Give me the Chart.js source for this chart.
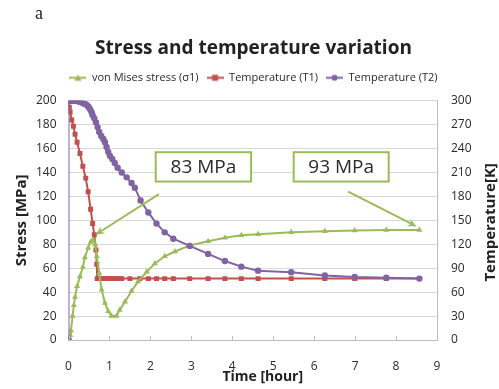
<!DOCTYPE html>
<html>
<head>
<meta charset="utf-8">
<script src="https://cdn.jsdelivr.net/npm/chart.js@4.4.1/dist/chart.umd.min.js"></script>
<style>
  body { margin: 0; background: #fff; }
  #wrap { position: relative; width: 499px; height: 389px; }
  #tag { position: absolute; left: 35px; top: 3px; font: 18px "Liberation Serif", "DejaVu Serif", serif; color: #222; }
</style>
</head>
<body>
<div id="wrap">
  <canvas id="chart" width="499" height="389"></canvas>
  <div id="tag">a</div>
</div>
<script>
// von Mises stress (MPa) vs time (hour)
const stressTime = [0, 0.02, 0.04, 0.06, 0.1, 0.13, 0.16, 0.21, 0.28, 0.35, 0.4, 0.48, 0.54, 0.6, 0.65, 0.69, 0.75, 0.81, 0.89, 0.97, 1.05, 1.17, 1.25, 1.38, 1.54, 1.7, 1.91, 2.11, 2.35, 2.6, 2.96, 3.41, 3.82, 4.22, 4.63, 5.44, 6.26, 6.99, 7.76, 8.57];
const stress = [0, 2, 4, 8, 20, 29, 36, 45, 53, 61, 69, 77, 82, 84, 80, 70, 56, 42, 31, 24, 20, 20, 25, 32, 41, 49, 57, 64, 70, 74, 79, 82.5, 85.5, 87.5, 88.5, 90, 91, 91.5, 92, 92];

// temperature T1 (K)
const t1Time = [0, 0.02, 0.04, 0.08, 0.12, 0.16, 0.21, 0.28, 0.35, 0.42, 0.48, 0.54, 0.59, 0.63, 0.67, 0.69, 0.7, 0.73, 0.76, 0.8, 0.84, 0.88, 0.92, 0.96, 1.0, 1.05, 1.1, 1.15, 1.2, 1.25, 1.3, 1.5, 1.74, 1.95, 2.15, 2.35, 2.56, 2.96, 3.41, 3.82, 4.22, 4.63, 5.44, 6.26, 6.99, 7.76, 8.57];
const tempT1 = [300, 292, 286, 276, 268, 258, 248, 234, 218, 203, 186, 164, 146, 132, 113, 95, 77, 77, 77, 77, 77, 77, 77, 77, 77, 77, 77, 77, 77, 77, 77, 77, 77, 77, 77, 77, 77, 77, 77, 77, 77, 77, 77, 77, 77, 77, 77];

// temperature T2 (K)
const t2Time = [0, 0, 0.04, 0.08, 0.12, 0.16, 0.2, 0.24, 0.28, 0.32, 0.36, 0.4, 0.44, 0.48, 0.51, 0.54, 0.57, 0.59, 0.63, 0.67, 0.71, 0.75, 0.8, 0.85, 0.89, 0.93, 0.97, 1.01, 1.07, 1.13, 1.2, 1.3, 1.42, 1.54, 1.62, 1.76, 1.95, 2.15, 2.35, 2.56, 2.96, 3.41, 3.82, 4.22, 4.63, 5.44, 6.26, 6.99, 7.76, 8.57];
const tempT2 = [0, 300, 300, 300, 300, 300, 300, 299, 299, 298, 297, 296, 295, 293, 291, 288, 285, 282, 278, 273, 267, 261, 256, 252, 248, 242, 236, 231, 227, 222, 216, 210, 204, 197, 191, 175, 160, 146, 135, 127, 118, 108, 99, 92, 87, 85, 81, 79, 78, 77];

const seriesLabels = ['von Mises stress (σ1)', 'Temperature (T1)', 'Temperature (T2)'];
const calloutText = ['83 MPa', '93 MPa'];

const GREEN = '#9bbb59';
const RED = '#c0504d';
const PURPLE = '#8064a2';
const TXT = '#2a2a2a';
const FONT = '"Open Sans", "Noto Sans", sans-serif';

const xy = (xs, ys) => xs.map((x, i) => ({ x: x, y: ys[i] }));

// small line+marker picture for the legend
function legendIcon(color, style) {
    const c = document.createElement('canvas');
    c.width = 17; c.height = 9;
    const g = c.getContext('2d');
    g.strokeStyle = color; g.fillStyle = color; g.lineWidth = 2;
    g.beginPath(); g.moveTo(0, 4.5); g.lineTo(17, 4.5); g.stroke();
    g.beginPath();
    if (style === 'triangle') {
        g.moveTo(8.5, 1); g.lineTo(12, 7.5); g.lineTo(5, 7.5);
    } else if (style === 'rect') {
        g.rect(5.5, 1.5, 6, 6);
    } else {
        g.arc(8.5, 4.5, 3, 0, Math.PI * 2);
    }
    g.fill();
    return c;
}
const icons = [legendIcon(GREEN, 'triangle'), legendIcon(RED, 'rect'), legendIcon(PURPLE, 'circle')];

// extra room under the legend
const legendGap = {
    id: 'legendGap',
    beforeInit(chart) {
        const fit = chart.legend.fit;
        chart.legend.fit = function () {
            fit.bind(chart.legend)();
            this.height += 7.5;
        };
    }
};

// callout boxes, arrows, inside tick marks and the axis titles
const callouts = {
    id: 'callouts',
    afterDatasetsDraw(chart) {
        const { ctx, scales: { x, y }, chartArea } = chart;
        ctx.save();
        ctx.strokeStyle = '#bfbfbf';
        ctx.lineWidth = 1;
        for (let i = 0; i <= 9; i++) {
            const px = Math.round(x.getPixelForValue(i)) + 0.5;
            ctx.beginPath();
            ctx.moveTo(px, chartArea.bottom);
            ctx.lineTo(px, chartArea.bottom - 4);
            ctx.stroke();
        }

        const boxes = [
            { x0: 2.13, x1: 4.46, tail: [2.21, 122], tip: [0.66, 88] },
            { x0: 5.5, x1: 7.82, tail: [6.83, 124], tip: [8.5, 95] }
        ];
        boxes.forEach((b, i) => {
            // arrow
            const sx = x.getPixelForValue(b.tail[0]), sy = y.getPixelForValue(b.tail[1]);
            const ex = x.getPixelForValue(b.tip[0]), ey = y.getPixelForValue(b.tip[1]);
            const ang = Math.atan2(ey - sy, ex - sx);
            ctx.strokeStyle = GREEN;
            ctx.fillStyle = GREEN;
            ctx.lineWidth = 2;
            ctx.beginPath();
            ctx.moveTo(sx, sy);
            ctx.lineTo(ex - 6 * Math.cos(ang), ey - 6 * Math.sin(ang));
            ctx.stroke();
            ctx.beginPath();
            ctx.moveTo(ex, ey);
            ctx.lineTo(ex - 9 * Math.cos(ang) + 4 * Math.sin(ang), ey - 9 * Math.sin(ang) - 4 * Math.cos(ang));
            ctx.lineTo(ex - 6 * Math.cos(ang), ey - 6 * Math.sin(ang));
            ctx.lineTo(ex - 9 * Math.cos(ang) - 4 * Math.sin(ang), ey - 9 * Math.sin(ang) + 4 * Math.cos(ang));
            ctx.closePath();
            ctx.fill();

            // box
            const left = x.getPixelForValue(b.x0), right = x.getPixelForValue(b.x1);
            const top = y.getPixelForValue(157), bottom = y.getPixelForValue(132.5);
            ctx.fillStyle = '#fff';
            ctx.fillRect(left, top, right - left, bottom - top);
            ctx.lineWidth = 2;
            ctx.strokeRect(left, top, right - left, bottom - top);
            ctx.fillStyle = TXT;
            ctx.font = '19px ' + FONT;
            ctx.textAlign = 'center';
            ctx.textBaseline = 'middle';
            ctx.fillText(calloutText[i], (left + right) / 2, (top + bottom) / 2 + 1);
        });

        // x axis title, a little right of centre as in the original
        ctx.fillStyle = '#222';
        ctx.font = 'bold 14px ' + FONT;
        ctx.textAlign = 'center';
        ctx.textBaseline = 'middle';
        ctx.fillText('Time [hour]', (chartArea.left + chartArea.right) / 2 + 10, chartArea.bottom + 37);

        // right axis title, read bottom to top
        ctx.translate(chart.width - 8.5, (chartArea.top + chartArea.bottom) / 2 + 2);
        ctx.rotate(-Math.PI / 2);
        ctx.font = 'bold 15px ' + FONT;
        ctx.fillText('Temperature[K]', 0, 0);
        ctx.restore();
    }
};

new Chart(document.getElementById('chart'), {
    type: 'line',
    data: {
        datasets: [
            {
                label: seriesLabels[0], data: xy(stressTime, stress), yAxisID: 'y',
                borderColor: GREEN, backgroundColor: GREEN, borderWidth: 2,
                pointStyle: 'triangle', pointRadius: 3.5, pointBorderWidth: 0, order: 1
            },
            {
                label: seriesLabels[1], data: xy(t1Time, tempT1), yAxisID: 'y1',
                borderColor: RED, backgroundColor: RED, borderWidth: 2,
                pointStyle: 'rect', pointRadius: 3.5, pointBorderWidth: 0, order: 2
            },
            {
                label: seriesLabels[2], data: xy(t2Time, tempT2), yAxisID: 'y1',
                borderColor: PURPLE, backgroundColor: PURPLE, borderWidth: 2,
                pointStyle: 'circle', pointRadius: 3.2, pointBorderWidth: 0, order: 0
            }
        ]
    },
    options: {
        responsive: false,
        animation: false,
        layout: { padding: { left: 8, right: 0, top: 0, bottom: 4 } },
        plugins: {
            title: {
                display: true,
                text: 'Stress and temperature variation',
                color: '#222',
                font: { family: FONT, size: 19, weight: 'bold' },
                padding: { top: 37.5, bottom: 4 }
            },
            legend: {
                labels: {
                    usePointStyle: true,
                    pointStyleWidth: 17,
                    padding: 8,
                    color: TXT,
                    font: { family: FONT, size: 11 },
                    generateLabels: chart => chart.data.datasets.map((ds, i) => ({
                        text: ds.label, pointStyle: icons[i], datasetIndex: i,
                        fontColor: TXT, lineWidth: 0, hidden: false
                    }))
                }
            },
            tooltip: { enabled: false }
        },
        scales: {
            x: {
                type: 'linear', min: 0, max: 9,
                ticks: { stepSize: 1, color: TXT, font: { family: FONT, size: 12 }, padding: 11 },
                grid: { display: false },
                border: { color: '#bfbfbf' },
                afterFit(s) { s.height = 45; }
            },
            y: {
                position: 'left', min: 0, max: 200,
                ticks: { stepSize: 20, color: TXT, font: { family: FONT, size: 12 }, padding: 12 },
                grid: { color: '#d9d9d9', drawTicks: false },
                border: { display: false },
                title: { display: true, text: 'Stress [MPa]', color: '#222', font: { family: FONT, size: 15, weight: 'bold' }, padding: { top: 5, bottom: 0 } },
                afterFit(s) { s.width = 60.5; }
            },
            y1: {
                position: 'right', min: 0, max: 300,
                ticks: { stepSize: 30, color: TXT, font: { family: FONT, size: 12 }, padding: 14 },
                grid: { drawOnChartArea: false, drawTicks: false },
                border: { color: '#bfbfbf' },
                afterFit(s) { s.width = 62; }
            }
        }
    },
    plugins: [legendGap, callouts]
});
</script>
</body>
</html>
